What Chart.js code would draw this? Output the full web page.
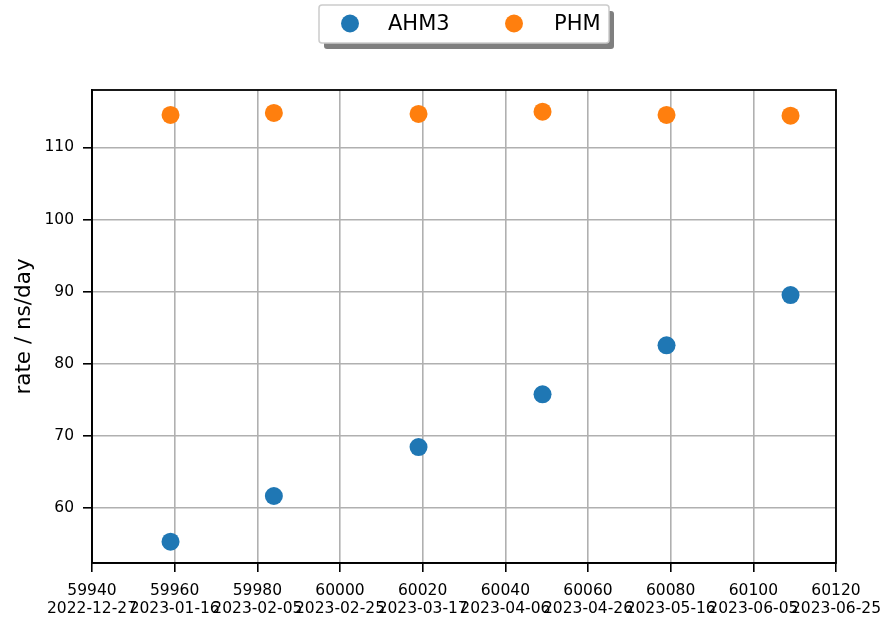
<!DOCTYPE html>
<html>
<head>
<meta charset="utf-8">
<script src="https://cdn.jsdelivr.net/npm/chart.js@4.4.1/dist/chart.umd.min.js"></script>
<style>
  html, body { margin: 0; padding: 0; background: #fff; }
  #wrap { width: 887px; height: 623px; }
</style>
</head>
<body>
<div id="wrap"><canvas id="chart" width="887" height="623"></canvas></div>
<script>
// MJD of each run
const mjd = [59959, 59984, 60019, 60049, 60079, 60109];
const ahm3Rate = [55.38, 61.70, 68.48, 75.79, 82.58, 89.54];
const phmRate = [114.49, 114.76, 114.62, 114.94, 114.49, 114.39];

const xTickValues = [59940, 59960, 59980, 60000, 60020, 60040, 60060, 60080, 60100, 60120];
const xTickDates = ['2022-12-27', '2023-01-16', '2023-02-05', '2023-02-25', '2023-03-17',
                    '2023-04-06', '2023-04-26', '2023-05-16', '2023-06-05', '2023-06-25'];

const FONT = "'DejaVu Sans', sans-serif";

function points(ys) {
  return mjd.map((x, i) => ({ x: x, y: ys[i] }));
}

// matplotlib-like framed legend with a drop shadow
const boxLegend = {
  id: 'boxLegend',
  afterDraw(chart) {
    const ctx = chart.ctx;
    const x0 = 319, y0 = 5, w = 290, h = 38;
    ctx.save();
    ctx.fillStyle = 'rgba(0,0,0,0.5)';
    roundRect(ctx, x0 + 5, y0 + 6, w, h, 3);
    ctx.fill();
    ctx.fillStyle = '#fff';
    ctx.strokeStyle = '#cccccc';
    ctx.lineWidth = 1.5;
    roundRect(ctx, x0, y0, w, h, 3);
    ctx.fill();
    ctx.stroke();

    const markerX = [350, 514];
    const textX = [388, 554];
    const cy = 23.5;
    ctx.font = '21px ' + FONT;
    ctx.textBaseline = 'middle';
    chart.data.datasets.forEach((ds, i) => {
      ctx.fillStyle = ds.backgroundColor;
      ctx.beginPath();
      ctx.arc(markerX[i], cy, 9, 0, Math.PI * 2);
      ctx.fill();
      ctx.fillStyle = '#000';
      ctx.fillText(ds.label, textX[i], cy + 1);
    });
    ctx.restore();
  }
};

function roundRect(ctx, x, y, w, h, r) {
  ctx.beginPath();
  ctx.moveTo(x + r, y);
  ctx.lineTo(x + w - r, y);
  ctx.arcTo(x + w, y, x + w, y + r, r);
  ctx.lineTo(x + w, y + h - r);
  ctx.arcTo(x + w, y + h, x + w - r, y + h, r);
  ctx.lineTo(x + r, y + h);
  ctx.arcTo(x, y + h, x, y + h - r, r);
  ctx.lineTo(x, y + r);
  ctx.arcTo(x, y, x + r, y, r);
  ctx.closePath();
}

// full black frame around the axes
const frame = {
  id: 'frame',
  afterDatasetsDraw(chart) {
    const a = chart.chartArea, ctx = chart.ctx;
    ctx.save();
    ctx.strokeStyle = '#000';
    ctx.lineWidth = 1.8;
    ctx.strokeRect(a.left, a.top, a.right - a.left, a.bottom - a.top);
    ctx.restore();
  }
};

new Chart(document.getElementById('chart').getContext('2d'), {
  type: 'scatter',
  data: {
    datasets: [
      {
        label: 'AHM3',
        data: points(ahm3Rate),
        backgroundColor: '#1f77b4',
        borderWidth: 0,
        pointRadius: 9,
        pointHoverRadius: 9
      },
      {
        label: 'PHM',
        data: points(phmRate),
        backgroundColor: '#ff7f0e',
        borderWidth: 0,
        pointRadius: 9,
        pointHoverRadius: 9
      }
    ]
  },
  options: {
    responsive: false,
    devicePixelRatio: 1,
    animation: false,
    layout: { padding: { top: 90, right: 51, left: 0, bottom: 0 } },
    plugins: {
      legend: { display: false },
      tooltip: { enabled: false }
    },
    scales: {
      x: {
        type: 'linear',
        min: 59940,
        max: 60120,
        afterFit(scale) {
          scale.height = 60;
          scale.paddingLeft = 0;
          scale.paddingRight = 0;
        },
        afterBuildTicks(scale) {
          scale.ticks = xTickValues.map(v => ({ value: v }));
        },
        ticks: {
          autoSkip: false,
          maxRotation: 0,
          minRotation: 0,
          padding: 10,
          color: '#000',
          font: { family: FONT, size: 15.5, lineHeight: 1.15 },
          callback(value) {
            const i = xTickValues.indexOf(value);
            return i < 0 ? '' : [String(value), xTickDates[i]];
          }
        },
        grid: {
          color: '#b0b0b0',
          lineWidth: 1.6,
          tickColor: '#000',
          tickLength: 9,
          tickWidth: 1.6
        },
        border: { display: true, color: '#000', width: 1.8 }
      },
      y: {
        type: 'linear',
        min: 52.42,
        max: 117.94,
        afterFit(scale) {
          scale.width = 92;
          scale.paddingTop = 0;
          scale.paddingBottom = 0;
        },
        ticks: {
          stepSize: 10,
          includeBounds: false,
          padding: 9,
          color: '#000',
          font: { family: FONT, size: 15.5 }
        },
        grid: {
          color: '#b0b0b0',
          lineWidth: 1.6,
          tickColor: '#000',
          tickLength: 9,
          tickWidth: 1.6
        },
        border: { display: true, color: '#000', width: 1.8 },
        title: {
          display: true,
          text: 'rate / ns/day',
          color: '#000',
          font: { family: FONT, size: 21.5 },
          padding: { top: 12, bottom: 0 }
        }
      }
    }
  },
  plugins: [frame, boxLegend]
});
</script>
</body>
</html>
